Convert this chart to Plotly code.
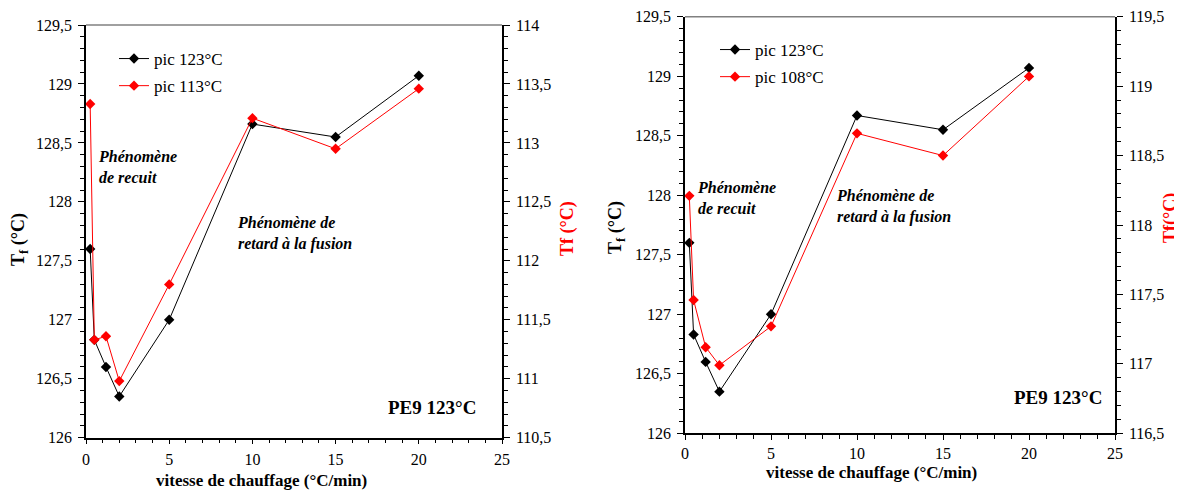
import plotly.graph_objects as go

# ---- data ----
vitesse = [0.25, 0.5, 1.2, 2, 5, 10, 15, 20]
pic123 = [127.6, 126.83, 126.6, 126.35, 127.0, 128.66, 128.55, 129.07]
pic113 = [113.33, 111.33, 111.36, 110.98, 111.8, 113.21, 112.95, 113.46]
pic123_b = [127.6, 126.83, 126.6, 126.35, 127.0, 128.67, 128.55, 129.07]
pic108 = [118.21, 117.46, 117.12, 116.99, 117.27, 118.66, 118.5, 119.07]

FONT = "Liberation Serif"
OFF = 8  # default page body margin
W, H = 1182 - OFF, 490 - OFF

def px(x):
    return (x - OFF) / W

def py(y):
    return 1 - (y - OFF) / H

fig = go.Figure()
mk = dict(symbol="diamond", size=8)
fig.add_trace(go.Scatter(x=vitesse, y=pic123, name="pic 123°C", mode="lines+markers",
                         line=dict(color="black", width=1), marker=dict(color="black", **mk),
                         xaxis="x", yaxis="y", legend="legend", legendgroup="a"))
fig.add_trace(go.Scatter(x=vitesse, y=pic113, name="pic 113°C", mode="lines+markers",
                         line=dict(color="red", width=1), marker=dict(color="red", **mk),
                         xaxis="x", yaxis="y2", legend="legend", legendgroup="b"))
fig.add_trace(go.Scatter(x=vitesse, y=pic123_b, name="pic 123°C", mode="lines+markers",
                         line=dict(color="black", width=1), marker=dict(color="black", **mk),
                         xaxis="x2", yaxis="y3", legend="legend2", legendgroup="c"))
fig.add_trace(go.Scatter(x=vitesse, y=pic108, name="pic 108°C", mode="lines+markers",
                         line=dict(color="red", width=1), marker=dict(color="red", **mk),
                         xaxis="x2", yaxis="y4", legend="legend2", legendgroup="d"))

tickfont = dict(family=FONT, size=16, color="black")

def xcommon(standoff):
    return dict(range=[0, 25], dtick=5, showgrid=False, zeroline=False, showline=True,
                linecolor="black", linewidth=1.5, ticks="outside", ticklen=5, tickwidth=1,
                tickcolor="black", tickfont=tickfont, automargin=False,
                minor=dict(dtick=1, ticks="outside", ticklen=4, tickcolor="black", tickwidth=1),
                ticklabelstandoff=standoff)

common_y = dict(dtick=0.5, showgrid=False, zeroline=False, showline=True,
                linecolor="black", linewidth=1.5, ticks="outside", ticklen=6, tickwidth=1,
                tickcolor="black", tickfont=tickfont, automargin=False,
                minor=dict(dtick=0.1, ticks="outside", ticklen=4, tickcolor="black", tickwidth=1),
                ticklabelstandoff=3)

leg_common = dict(xanchor="left", yanchor="top", bgcolor="rgba(0,0,0,0)",
                  font=dict(family=FONT, size=17, color="black"), tracegroupgap=2, itemwidth=30)

fig.update_layout(
    width=W, height=H,
    margin=dict(l=0, r=0, t=0, b=0),
    paper_bgcolor="white", plot_bgcolor="white",
    separators=", ",
    font=dict(family=FONT, size=16, color="black"),
    xaxis=dict(domain=[px(86), px(502)], anchor="y", **xcommon(1)),
    yaxis=dict(domain=[py(437.7), py(25)], range=[126, 129.5], anchor="x", **common_y),
    yaxis2=dict(range=[110.5, 114], overlaying="y", side="right", anchor="x", **common_y),
    xaxis2=dict(domain=[px(685), px(1115)], anchor="y3", **xcommon(0)),
    yaxis3=dict(domain=[py(433.3), py(16.7)], range=[126, 129.5], anchor="x2", **common_y),
    yaxis4=dict(range=[116.5, 119.5], overlaying="y3", side="right", anchor="x2", **common_y),
    legend=dict(x=px(114), y=py(41), **leg_common),
    legend2=dict(x=px(715), y=py(32), **leg_common),
)

# gray top frame lines
for xr, yr in (("x domain", "y domain"), ("x2 domain", "y3 domain")):
    fig.add_shape(type="line", xref=xr, yref=yr, x0=0, x1=1, y0=1, y1=1,
                  line=dict(color="#808080", width=1.5))

ann_font_bi = dict(family=FONT, size=16, color="black")
def ann(text, x, y, **kw):
    d = dict(text=text, xref="paper", yref="paper", x=px(x), y=py(y), showarrow=False,
             font=kw.pop("font", ann_font_bi), align="left", xanchor=kw.pop("xanchor", "left"),
             yanchor=kw.pop("yanchor", "middle"))
    d.update(kw)
    fig.add_annotation(**d)

ann("<b><i>Phénomène<br>de recuit</i></b>", 96, 167)
ann("<b><i>Phénomène de<br>retard à la fusion</i></b>", 235, 233)
ann("<b><i>Phénomène<br>de recuit</i></b>", 695, 198)
ann("<b><i>Phénomène de<br>retard à la fusion</i></b>", 834, 206)
ann("<b>PE9 123°C</b>", 432, 407, xanchor="center", font=dict(family=FONT, size=19, color="black"))
ann("<b>PE9 123°C</b>", 1058, 397, xanchor="center", font=dict(family=FONT, size=19, color="black"))

# axis titles
xt_font = dict(family=FONT, size=17, color="black")
ann("<b>vitesse de chauffage (°C/min)</b>", 261, 480, xanchor="center", font=xt_font)
ann("<b>vitesse de chauffage (°C/min)</b>", 871, 472, xanchor="center", font=xt_font)
ann("<b>T<sub>f</sub> (°C)</b>", 19, 240, xanchor="center", textangle=-90,
    font=dict(family=FONT, size=18, color="black"))
ann("<b>T<sub>f</sub> (°C)</b>", 617, 228, xanchor="center", textangle=-90,
    font=dict(family=FONT, size=18, color="black"))
ann("<b>Tf (°C)</b>", 568, 229, xanchor="center", textangle=-90,
    font=dict(family=FONT, size=18, color="red"))
ann("<b>Tf(°C)</b>", 1170, 218, xanchor="center", textangle=-90,
    font=dict(family=FONT, size=18, color="red"))

fig.write_html("out.html")
